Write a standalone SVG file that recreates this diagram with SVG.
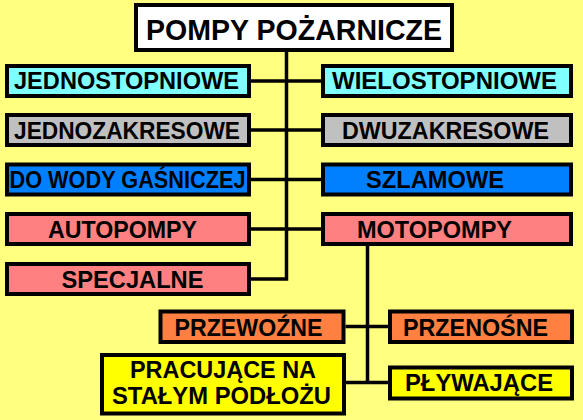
<svg xmlns="http://www.w3.org/2000/svg" width="583" height="420" viewBox="0 0 583 420">
<style>
.box{stroke:#000;stroke-width:4}
.t{font-family:"Liberation Sans",Arial,sans-serif;font-weight:bold;font-size:23px;text-anchor:middle;fill:#000}
.conn{fill:none;stroke:#000;stroke-width:3.5}
.cyan{fill:#80ffff}.gray{fill:#c0c0c0}.blue{fill:#0080ff}.pink{fill:#ff8080}.orange{fill:#ff8040}.yellow{fill:#ffff00}
</style>
<rect x="0" y="0" width="583" height="420" fill="#ffff80"/>
<g id="connectors" class="conn">
<path d="M286.5 50 V279 H251"/>
<path d="M251 81 H321"/>
<path d="M251 130 H321"/>
<path d="M251 179.5 H321"/>
<path d="M251 229 H321"/>
<path d="M367.5 244 V382.5"/>
<path d="M345.5 326.5 H388"/>
<path d="M346 382.5 H388"/>
</g>
<g id="title"><rect class="box" x="136" y="5" width="316" height="45" fill="#fff"/><text class="t" x="294" y="39.5" style="font-size:30px" textLength="296" lengthAdjust="spacingAndGlyphs">POMPY POŻARNICZE</text></g>
<g id="jednostopniowe"><rect class="box cyan" x="7" y="66" width="242" height="30"/><text class="t" x="126.5" y="89" textLength="225" lengthAdjust="spacingAndGlyphs">JEDNOSTOPNIOWE</text></g>
<g id="wielostopniowe"><rect class="box cyan" x="323" y="66" width="248" height="30"/><text class="t" x="444.5" y="89" textLength="225" lengthAdjust="spacingAndGlyphs">WIELOSTOPNIOWE</text></g>
<g id="jednozakresowe"><rect class="box gray" x="7" y="115" width="242" height="30"/><text class="t" x="127" y="138.5" textLength="226" lengthAdjust="spacingAndGlyphs">JEDNOZAKRESOWE</text></g>
<g id="dwuzakresowe"><rect class="box gray" x="323" y="115" width="248" height="30"/><text class="t" x="445.5" y="138.5" textLength="207" lengthAdjust="spacingAndGlyphs">DWUZAKRESOWE</text></g>
<g id="do-wody"><rect class="box blue" x="7" y="164.5" width="242" height="30"/><text class="t" x="127.5" y="188" textLength="236" lengthAdjust="spacingAndGlyphs">DO WODY GAŚNICZEJ</text></g>
<g id="szlamowe"><rect class="box blue" x="323" y="164.5" width="248" height="30"/><text class="t" x="435" y="188" textLength="138" lengthAdjust="spacingAndGlyphs">SZLAMOWE</text></g>
<g id="autopompy"><rect class="box pink" x="7" y="214" width="242" height="30"/><text class="t" x="122.5" y="237.5" textLength="149" lengthAdjust="spacingAndGlyphs">AUTOPOMPY</text></g>
<g id="motopompy"><rect class="box pink" x="323" y="214" width="248" height="30"/><text class="t" x="434.5" y="237.5" textLength="155" lengthAdjust="spacingAndGlyphs">MOTOPOMPY</text></g>
<g id="specjalne"><rect class="box pink" x="7" y="264" width="242" height="30"/><text class="t" x="132.5" y="287.5" textLength="142" lengthAdjust="spacingAndGlyphs">SPECJALNE</text></g>
<g id="przewozne"><rect class="box orange" x="160.5" y="311.5" width="183" height="30.5"/><text class="t" x="248.5" y="335.5" textLength="148" lengthAdjust="spacingAndGlyphs">PRZEWOŹNE</text></g>
<g id="przenosne"><rect class="box orange" x="390" y="311.5" width="182" height="30.5"/><text class="t" x="475.5" y="335.5" textLength="145" lengthAdjust="spacingAndGlyphs">PRZENOŚNE</text></g>
<g id="pracujace"><rect class="box yellow" x="102" y="355" width="242" height="58.5"/><text class="t" x="223" y="378" textLength="186" lengthAdjust="spacingAndGlyphs">PRACUJĄCE NA</text><text class="t" x="221.5" y="404" textLength="219" lengthAdjust="spacingAndGlyphs">STAŁYM PODŁOŻU</text></g>
<g id="plywajace"><rect class="box yellow" x="390" y="367.5" width="182" height="31"/><text class="t" x="479" y="391" textLength="148" lengthAdjust="spacingAndGlyphs">PŁYWAJĄCE</text></g>
</svg>
